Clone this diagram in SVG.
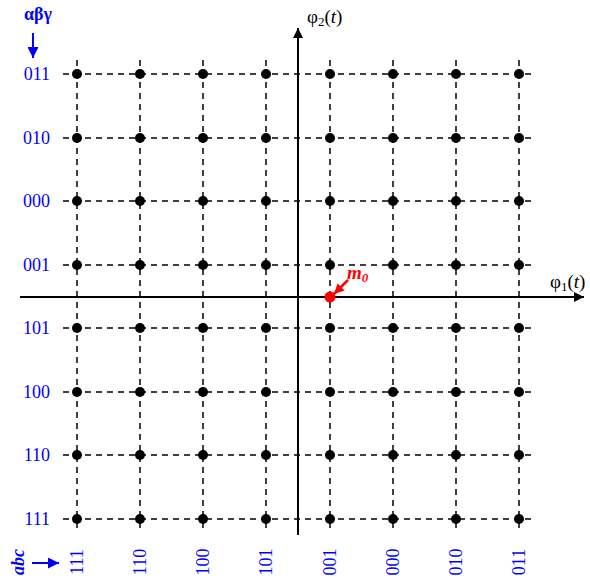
<svg xmlns="http://www.w3.org/2000/svg" width="590" height="582" viewBox="0 0 590 582">
<defs>
<style>
.grid{stroke:#000;stroke-width:1.5;stroke-dasharray:6 5;fill:none}
.axis{stroke:#000;stroke-width:2;fill:none}
.dot{fill:#000}
.lbl{font-family:"Liberation Serif","Times New Roman",serif;font-size:18px;fill:#0000ff}
.ax{font-family:"Liberation Serif","Times New Roman",serif;font-size:19px;fill:#000}
</style>
<marker id="ah" viewBox="0 0 10 10" refX="10" refY="5" markerWidth="10" markerHeight="12" markerUnits="userSpaceOnUse" orient="auto"><path d="M0,0 L10,5 L0,10 z" fill="#000"/></marker>
<marker id="ahb" viewBox="0 0 10 10" refX="10" refY="5" markerWidth="12" markerHeight="11" markerUnits="userSpaceOnUse" orient="auto"><path d="M0,0 L10,5 L0,10 z" fill="#0000ff"/></marker>
<marker id="ahr" viewBox="0 0 10 10" refX="10" refY="5" markerWidth="10" markerHeight="10" markerUnits="userSpaceOnUse" orient="auto"><path d="M0,0 L10,5 L0,10 z" fill="#ff0000"/></marker>
</defs>
<rect width="590" height="582" fill="#fff"/>
<g id="connectors">
<g class="grid">
<line x1="63" y1="74" x2="534" y2="74"/>
<line x1="63" y1="138" x2="534" y2="138"/>
<line x1="63" y1="201" x2="534" y2="201"/>
<line x1="63" y1="265" x2="534" y2="265"/>
<line x1="63" y1="328" x2="534" y2="328"/>
<line x1="63" y1="392" x2="534" y2="392"/>
<line x1="63" y1="455" x2="534" y2="455"/>
<line x1="63" y1="519" x2="534" y2="519"/>
<line x1="77" y1="60" x2="77" y2="533"/>
<line x1="140" y1="60" x2="140" y2="533"/>
<line x1="203" y1="60" x2="203" y2="533"/>
<line x1="266" y1="60" x2="266" y2="533"/>
<line x1="330" y1="60" x2="330" y2="533"/>
<line x1="393" y1="60" x2="393" y2="533"/>
<line x1="456" y1="60" x2="456" y2="533"/>
<line x1="519" y1="60" x2="519" y2="533"/>
</g>
<line class="axis" x1="298" y1="535" x2="298" y2="28" marker-end="url(#ah)"/>
<line class="axis" x1="20" y1="297" x2="584" y2="297" marker-end="url(#ah)"/>
<line x1="33" y1="33" x2="33" y2="58" stroke="#0000ff" stroke-width="2" marker-end="url(#ahb)"/>
<line x1="32" y1="563" x2="59" y2="563" stroke="#0000ff" stroke-width="2" marker-end="url(#ahb)"/>
<line x1="348" y1="280" x2="334" y2="294" stroke="#ff0000" stroke-width="2.5" marker-end="url(#ahr)"/>
</g>
<g id="points" class="dot">
<circle cx="77" cy="74" r="5"/><circle cx="140" cy="74" r="5"/><circle cx="203" cy="74" r="5"/><circle cx="266" cy="74" r="5"/><circle cx="330" cy="74" r="5"/><circle cx="393" cy="74" r="5"/><circle cx="456" cy="74" r="5"/><circle cx="519" cy="74" r="5"/>
<circle cx="77" cy="138" r="5"/><circle cx="140" cy="138" r="5"/><circle cx="203" cy="138" r="5"/><circle cx="266" cy="138" r="5"/><circle cx="330" cy="138" r="5"/><circle cx="393" cy="138" r="5"/><circle cx="456" cy="138" r="5"/><circle cx="519" cy="138" r="5"/>
<circle cx="77" cy="201" r="5"/><circle cx="140" cy="201" r="5"/><circle cx="203" cy="201" r="5"/><circle cx="266" cy="201" r="5"/><circle cx="330" cy="201" r="5"/><circle cx="393" cy="201" r="5"/><circle cx="456" cy="201" r="5"/><circle cx="519" cy="201" r="5"/>
<circle cx="77" cy="265" r="5"/><circle cx="140" cy="265" r="5"/><circle cx="203" cy="265" r="5"/><circle cx="266" cy="265" r="5"/><circle cx="330" cy="265" r="5"/><circle cx="393" cy="265" r="5"/><circle cx="456" cy="265" r="5"/><circle cx="519" cy="265" r="5"/>
<circle cx="77" cy="328" r="5"/><circle cx="140" cy="328" r="5"/><circle cx="203" cy="328" r="5"/><circle cx="266" cy="328" r="5"/><circle cx="330" cy="328" r="5"/><circle cx="393" cy="328" r="5"/><circle cx="456" cy="328" r="5"/><circle cx="519" cy="328" r="5"/>
<circle cx="77" cy="392" r="5"/><circle cx="140" cy="392" r="5"/><circle cx="203" cy="392" r="5"/><circle cx="266" cy="392" r="5"/><circle cx="330" cy="392" r="5"/><circle cx="393" cy="392" r="5"/><circle cx="456" cy="392" r="5"/><circle cx="519" cy="392" r="5"/>
<circle cx="77" cy="455" r="5"/><circle cx="140" cy="455" r="5"/><circle cx="203" cy="455" r="5"/><circle cx="266" cy="455" r="5"/><circle cx="330" cy="455" r="5"/><circle cx="393" cy="455" r="5"/><circle cx="456" cy="455" r="5"/><circle cx="519" cy="455" r="5"/>
<circle cx="77" cy="519" r="5"/><circle cx="140" cy="519" r="5"/><circle cx="203" cy="519" r="5"/><circle cx="266" cy="519" r="5"/><circle cx="330" cy="519" r="5"/><circle cx="393" cy="519" r="5"/><circle cx="456" cy="519" r="5"/><circle cx="519" cy="519" r="5"/>
</g>
<g id="m0">
<circle cx="330" cy="297" r="5.5" fill="#ff0000"/>
<text x="347" y="279" font-family="Liberation Serif,serif" font-size="19" font-weight="bold" font-style="italic" fill="#ff0000">m<tspan font-size="13" dy="3">0</tspan></text>
</g>
<g id="axis-labels" class="ax">
<text x="307" y="23">φ<tspan font-size="13" dy="3">2</tspan><tspan dy="-3">(</tspan><tspan font-style="italic">t</tspan>)</text>
<text x="550" y="288">φ<tspan font-size="13" dy="3">1</tspan><tspan dy="-3">(</tspan><tspan font-style="italic">t</tspan>)</text>
</g>
<g id="row-labels" class="lbl" text-anchor="end">
<text x="50" y="80">011</text>
<text x="50" y="144">010</text>
<text x="50" y="207">000</text>
<text x="50" y="271">001</text>
<text x="50" y="334">101</text>
<text x="50" y="398">100</text>
<text x="50" y="461">110</text>
<text x="50" y="525">111</text>
<text x="52" y="20" font-weight="bold">αβγ</text>
</g>
<g id="col-labels" class="lbl" text-anchor="middle">
<text transform="translate(83,562) rotate(-90)">111</text>
<text transform="translate(146,562) rotate(-90)">110</text>
<text transform="translate(209,562) rotate(-90)">100</text>
<text transform="translate(272,562) rotate(-90)">101</text>
<text transform="translate(336,562) rotate(-90)">001</text>
<text transform="translate(399,562) rotate(-90)">000</text>
<text transform="translate(462,562) rotate(-90)">010</text>
<text transform="translate(525,562) rotate(-90)">011</text>
<text transform="translate(24,562) rotate(-90)" font-weight="bold" font-style="italic">abc</text>
</g>
</svg>
